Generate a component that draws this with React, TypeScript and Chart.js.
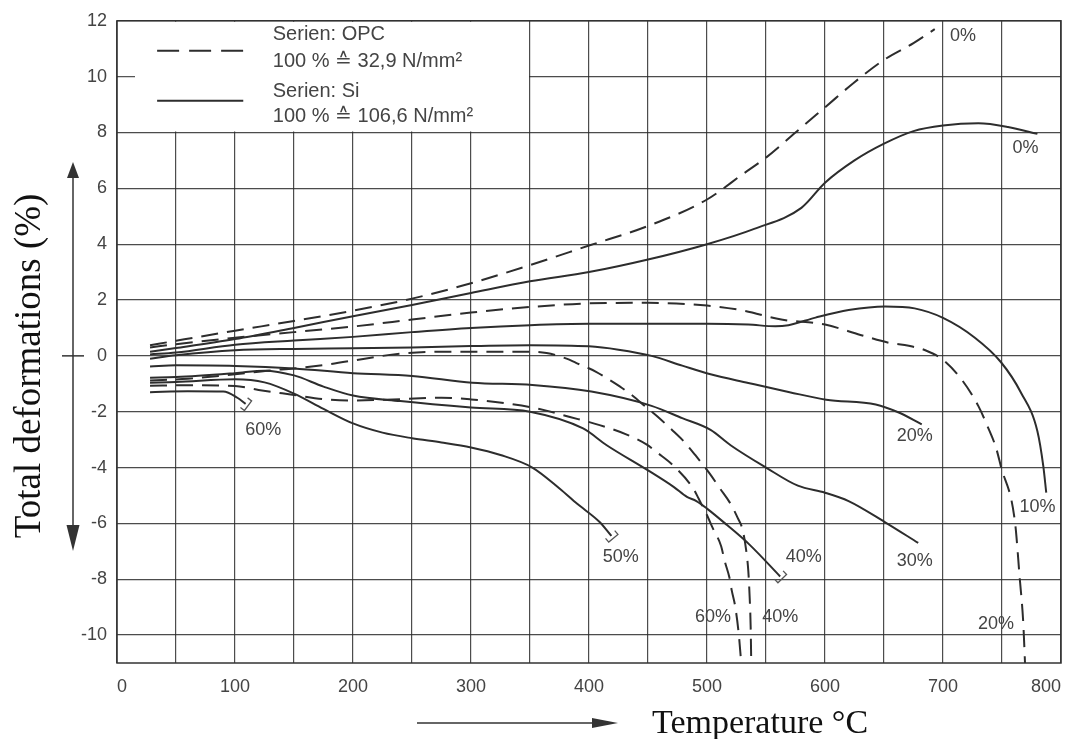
import React, { useEffect, useRef } from 'react';
import { Chart, registerables } from 'chart.js';

Chart.register(...registerables);

// ---------- data (temperature °C, total deformation %) ----------
const xGridValues = [0, 50, 100, 150, 200, 250, 300, 350, 400, 450, 500, 550, 600, 650, 700, 750, 800];
const yTickValues = [-10, -8, -6, -4, -2, 0, 2, 4, 6, 8, 10, 12];

const opcZero = [[28, 0.38], [50, 0.54], [100, 0.9], [150, 1.25], [200, 1.62], [250, 2.05], [300, 2.6], [350, 3.25], [400, 3.95], [450, 4.65], [500, 5.6], [530, 6.5], [550, 7.1], [575, 8.0], [600, 8.9], [625, 9.8], [650, 10.6], [675, 11.2], [693, 11.7]];
const opcTwenty = [[28, 0.3], [50, 0.42], [100, 0.65], [150, 0.85], [200, 1.05], [250, 1.3], [300, 1.55], [350, 1.75], [400, 1.88], [450, 1.9], [500, 1.8], [531, 1.62], [563, 1.3], [600, 1.12], [630, 0.75], [654, 0.47], [671, 0.36], [685, 0.2], [700, -0.14], [716, -0.86], [730, -1.8], [738, -2.55], [745, -3.3], [749, -3.95], [761, -5.95], [765, -7.95], [768, -9.55], [769.5, -11]];
const opcForty = [[28, -0.88], [60, -0.82], [100, -0.66], [130, -0.52], [150, -0.45], [180, -0.3], [210, -0.1], [240, 0.08], [280, 0.15], [350, 0.15], [364, 0.1], [381, -0.1], [389, -0.25], [406, -0.57], [415, -0.8], [428, -1.15], [437, -1.43], [448, -1.82], [458, -2.17], [470, -2.64], [480, -3.05], [490, -3.55], [502, -4.2], [511, -4.75], [520, -5.3], [526, -5.8], [530, -6.2], [533, -6.9], [535, -7.7], [536, -8.5], [537, -9.7], [537.5, -11]];
const opcSixty = [[28, -1.07], [60, -1.05], [100, -1.08], [120, -1.22], [150, -1.4], [175, -1.55], [200, -1.6], [240, -1.55], [275, -1.5], [300, -1.56], [330, -1.7], [358, -1.9], [383, -2.18], [409, -2.48], [432, -2.82], [449, -3.18], [458, -3.47], [472, -3.95], [488.5, -4.76], [493, -5.12], [500, -5.71], [505, -6.18], [512, -6.82], [515, -7.35], [519, -7.94], [521, -8.41], [524, -9.0], [527, -10.0], [529, -11]];

const siZero = [[28, 0.15], [50, 0.28], [100, 0.6], [150, 1.0], [200, 1.42], [250, 1.82], [300, 2.25], [350, 2.67], [400, 3.0], [450, 3.45], [500, 4.0], [540, 4.55], [580, 5.3], [600, 6.2], [625, 7.0], [650, 7.6], [675, 8.05], [700, 8.25], [730, 8.33], [755, 8.2], [780, 7.95]];
const siTen = [[28, 0.05], [50, 0.12], [100, 0.4], [150, 0.55], [200, 0.68], [250, 0.85], [300, 1.0], [350, 1.1], [400, 1.15], [450, 1.15], [500, 1.15], [535, 1.12], [558, 1.06], [569, 1.1], [592, 1.37], [620, 1.64], [651, 1.77], [676, 1.7], [700, 1.36], [727, 0.65], [749, -0.22], [766, -1.31], [780, -2.7], [785, -3.95], [787.5, -4.9]];
const siTwenty = [[28, -0.1], [50, 0.02], [100, 0.2], [150, 0.25], [200, 0.27], [250, 0.3], [300, 0.35], [350, 0.38], [400, 0.34], [425, 0.22], [453, 0.0], [479, -0.35], [503, -0.66], [535, -0.97], [570, -1.3], [601, -1.57], [643, -1.74], [662, -2.02], [682, -2.45]];
const siThirty = [[28, -0.38], [50, -0.34], [100, -0.36], [150, -0.45], [200, -0.62], [250, -0.72], [301, -0.96], [352, -1.04], [402, -1.28], [453, -1.79], [479, -2.23], [503, -2.65], [520, -3.2], [550, -4.0], [577, -4.65], [600, -4.9], [620, -5.2], [651, -5.96], [679, -6.7]];
const siForty = [[28, -0.78], [50, -0.76], [100, -0.62], [125, -0.53], [150, -0.7], [175, -1.1], [200, -1.42], [240, -1.62], [300, -1.85], [350, -2.0], [395, -2.6], [415, -3.2], [450, -4.1], [472, -4.7], [483, -5.05], [491, -5.2], [500, -5.47], [517, -6.06], [536, -6.76], [562, -7.9]];
const siFifty = [[28, -0.96], [50, -0.94], [100, -0.84], [125, -0.95], [150, -1.35], [175, -1.9], [200, -2.42], [225, -2.75], [250, -2.95], [275, -3.1], [300, -3.28], [325, -3.55], [352, -4.0], [375, -4.75], [390, -5.3], [409, -5.95], [419, -6.45]];
const siSixty = [[28, -1.3], [60, -1.27], [90, -1.28], [102, -1.5], [109, -1.72]];

const seriesNames = ['OPC 0%', 'OPC 20%', 'OPC 40%', 'OPC 60%', 'Si 0%', 'Si 10%', 'Si 20%', 'Si 30%', 'Si 40%', 'Si 50%', 'Si 60%'];
const seriesPoints = [opcZero, opcTwenty, opcForty, opcSixty, siZero, siTen, siTwenty, siThirty, siForty, siFifty, siSixty];
const failedSeries = ['Si 40%', 'Si 50%', 'Si 60%'];

// curve labels, anchored in data coordinates
const labelTexts = ['0%', '0%', '10%', '20%', '30%', '20%', '40%', '40%', '60%', '50%', '60%'];
const labelX = [717, 770, 780, 676, 676, 745, 582, 562, 505, 427, 124];
const labelY = [11.45, 7.44, -5.42, -2.88, -7.36, -9.59, -7.22, -9.34, -9.37, -7.21, -2.64];

const legendTitles = ['Serien: OPC', '100 % \u2259 32,9 N/mm\u00B2', 'Serien: Si', '100 % \u2259 106,6 N/mm\u00B2'];

const W = 1074;
const H = 739;
const INK = '#2d2d2d';
const GRID = 'rgba(45,45,45,0.85)';
const TEXT = '#444';
const SANS = '"Liberation Sans", Arial, Helvetica, sans-serif';
const SERIF = '"Liberation Serif", "Times New Roman", serif';

function arrowHead(ctx: CanvasRenderingContext2D, tipX: number, tipY: number, dx: number, dy: number, len: number, half: number) {
  const bx = tipX - dx * len;
  const by = tipY - dy * len;
  ctx.beginPath();
  ctx.moveTo(tipX, tipY);
  ctx.lineTo(bx - dy * half, by + dx * half);
  ctx.lineTo(bx + dy * half, by - dx * half);
  ctx.closePath();
  ctx.fill();
}

const decorPlugin = {
  id: 'decor',
  beforeDatasetsDraw(chart: any) {
    const { ctx, chartArea: ca, scales } = chart;
    const X = (v: number) => scales.x.getPixelForValue(v);
    const Y = (v: number) => scales.y.getPixelForValue(v);
    ctx.save();
    // legend box (white, hides grid)
    ctx.fillStyle = '#fff';
    const l = ca.left + 1, t = ca.top + 1;
    ctx.fillRect(l, t, X(350) - 1 - l, Y(8) - 1 - t);
    // stub tick at 10
    ctx.strokeStyle = GRID;
    ctx.lineWidth = 1.2;
    ctx.beginPath();
    ctx.moveTo(ca.left, Y(10));
    ctx.lineTo(ca.left + 18, Y(10));
    ctx.stroke();
    // legend samples
    ctx.strokeStyle = INK;
    ctx.lineWidth = 2;
    ctx.setLineDash([22, 10]);
    ctx.beginPath();
    ctx.moveTo(X(34), Y(10.93));
    ctx.lineTo(X(107), Y(10.93));
    ctx.stroke();
    ctx.setLineDash([]);
    ctx.beginPath();
    ctx.moveTo(X(34), Y(9.14));
    ctx.lineTo(X(107), Y(9.14));
    ctx.stroke();
    ctx.fillStyle = TEXT;
    ctx.font = `20px ${SANS}`;
    ctx.textAlign = 'left';
    ctx.textBaseline = 'middle';
    const ly = [11.5, 10.53, 9.46, 8.57];
    legendTitles.forEach((s, i) => ctx.fillText(s, X(132), Y(ly[i])));
    ctx.restore();
  },
  afterDatasetsDraw(chart: any) {
    const { ctx, chartArea: ca, scales } = chart;
    const X = (v: number) => scales.x.getPixelForValue(v);
    const Y = (v: number) => scales.y.getPixelForValue(v);
    ctx.save();
    // frame
    ctx.strokeStyle = '#333';
    ctx.lineWidth = 1.5;
    ctx.strokeRect(ca.left, ca.top, ca.right - ca.left, ca.bottom - ca.top);
    // failure brackets
    ctx.strokeStyle = '#555';
    ctx.lineWidth = 1.3;
    chart.data.datasets.forEach((ds: any, i: number) => {
      if (!failedSeries.includes(ds.label)) return;
      const pts = chart.getDatasetMeta(i).data;
      const a = pts[pts.length - 2];
      const b = pts[pts.length - 1];
      let dx = b.x - a.x, dy = b.y - a.y;
      const n = Math.hypot(dx, dy) || 1;
      dx /= n; dy /= n;
      const nx = -dy, ny = dx;
      const cx = b.x + dx * 3, cy = b.y + dy * 3;
      const hl = 6, arm = 5;
      ctx.beginPath();
      ctx.moveTo(cx - nx * hl - dx * arm, cy - ny * hl - dy * arm);
      ctx.lineTo(cx - nx * hl, cy - ny * hl);
      ctx.lineTo(cx + nx * hl, cy + ny * hl);
      ctx.lineTo(cx + nx * hl - dx * arm, cy + ny * hl - dy * arm);
      ctx.stroke();
    });
    // curve labels
    ctx.fillStyle = TEXT;
    ctx.font = `18px ${SANS}`;
    ctx.textAlign = 'center';
    ctx.textBaseline = 'middle';
    labelTexts.forEach((s, i) => ctx.fillText(s, X(labelX[i]), Y(labelY[i])));
    ctx.restore();
  },
  afterDraw(chart: any) {
    const { ctx, scales } = chart;
    const Y = (v: number) => scales.y.getPixelForValue(v);
    ctx.save();
    ctx.strokeStyle = '#333';
    ctx.fillStyle = '#333';
    ctx.lineWidth = 1.5;
    // vertical double arrow
    ctx.beginPath();
    ctx.moveTo(73, 170);
    ctx.lineTo(73, 540);
    ctx.stroke();
    arrowHead(ctx, 73, 162, 0, -1, 16, 6);
    arrowHead(ctx, 73, 551, 0, 1, 26, 6.5);
    // cross tick at 0
    ctx.beginPath();
    ctx.moveTo(62, Y(0));
    ctx.lineTo(84, Y(0));
    ctx.stroke();
    // horizontal arrow
    ctx.beginPath();
    ctx.moveTo(417, 723);
    ctx.lineTo(600, 723);
    ctx.stroke();
    arrowHead(ctx, 618, 723, 1, 0, 26, 5);
    // titles
    ctx.fillStyle = '#111';
    ctx.font = `34px ${SERIF}`;
    ctx.textAlign = 'left';
    ctx.textBaseline = 'alphabetic';
    ctx.fillText('Temperature \u00B0C', 652, 733);
    ctx.font = `37px ${SERIF}`;
    ctx.translate(40, 366);
    ctx.rotate(-Math.PI / 2);
    ctx.textAlign = 'center';
    ctx.fillText('Total deformations (%)', 0, 0);
    ctx.restore();
  },
};

export default function App() {
  const ref = useRef<HTMLCanvasElement>(null);
  useEffect(() => {
    const canvas = ref.current;
    if (!canvas) return;
    const datasets = seriesNames.map((name, i) => ({
      label: name,
      data: seriesPoints[i].map(([x, y]) => ({ x, y })),
      borderColor: INK,
      borderWidth: 2,
      borderDash: name.startsWith('OPC') ? [17, 9] : [],
      pointRadius: 0,
      fill: false,
      cubicInterpolationMode: 'monotone' as const,
    }));
    const tickFont = { family: SANS, size: 18 };
    const chart = new Chart(canvas, {
      type: 'line',
      data: { datasets },
      options: {
        animation: false,
        responsive: false,
        devicePixelRatio: 1,
        layout: { padding: { top: 20, right: 13, left: 0, bottom: 0 } },
        plugins: { legend: { display: false }, tooltip: { enabled: false } },
        scales: {
          x: {
            type: 'linear',
            min: 0,
            max: 800,
            afterBuildTicks: (s: any) => { s.ticks = xGridValues.map((v) => ({ value: v })); },
            afterFit: (s: any) => { s.height = 76; s.paddingLeft = 0; s.paddingRight = 0; },
            grid: { color: GRID, lineWidth: 1.2, drawTicks: false },
            border: { display: false },
            ticks: {
              autoSkip: false,
              maxRotation: 0,
              align: 'inner',
              padding: 13,
              color: TEXT,
              font: tickFont,
              callback: (v: any) => (Number(v) % 100 === 0 ? String(v) : ''),
            },
          },
          y: {
            type: 'linear',
            min: -11,
            max: 12,
            afterBuildTicks: (s: any) => { s.ticks = yTickValues.map((v) => ({ value: v })); },
            afterFit: (s: any) => { s.width = 117; },
            grid: { color: GRID, lineWidth: 1.2, drawTicks: false },
            border: { display: false },
            ticks: { padding: 10, color: TEXT, font: tickFont, callback: (v: any) => String(v) },
          },
        },
      },
      plugins: [decorPlugin],
    });
    return () => chart.destroy();
  }, []);
  return (
    <div style={{ position: 'fixed', left: 0, top: 0, width: W, height: H, background: '#fff' }}>
      <canvas ref={ref} width={W} height={H} style={{ display: 'block', width: W, height: H }} />
    </div>
  );
}
